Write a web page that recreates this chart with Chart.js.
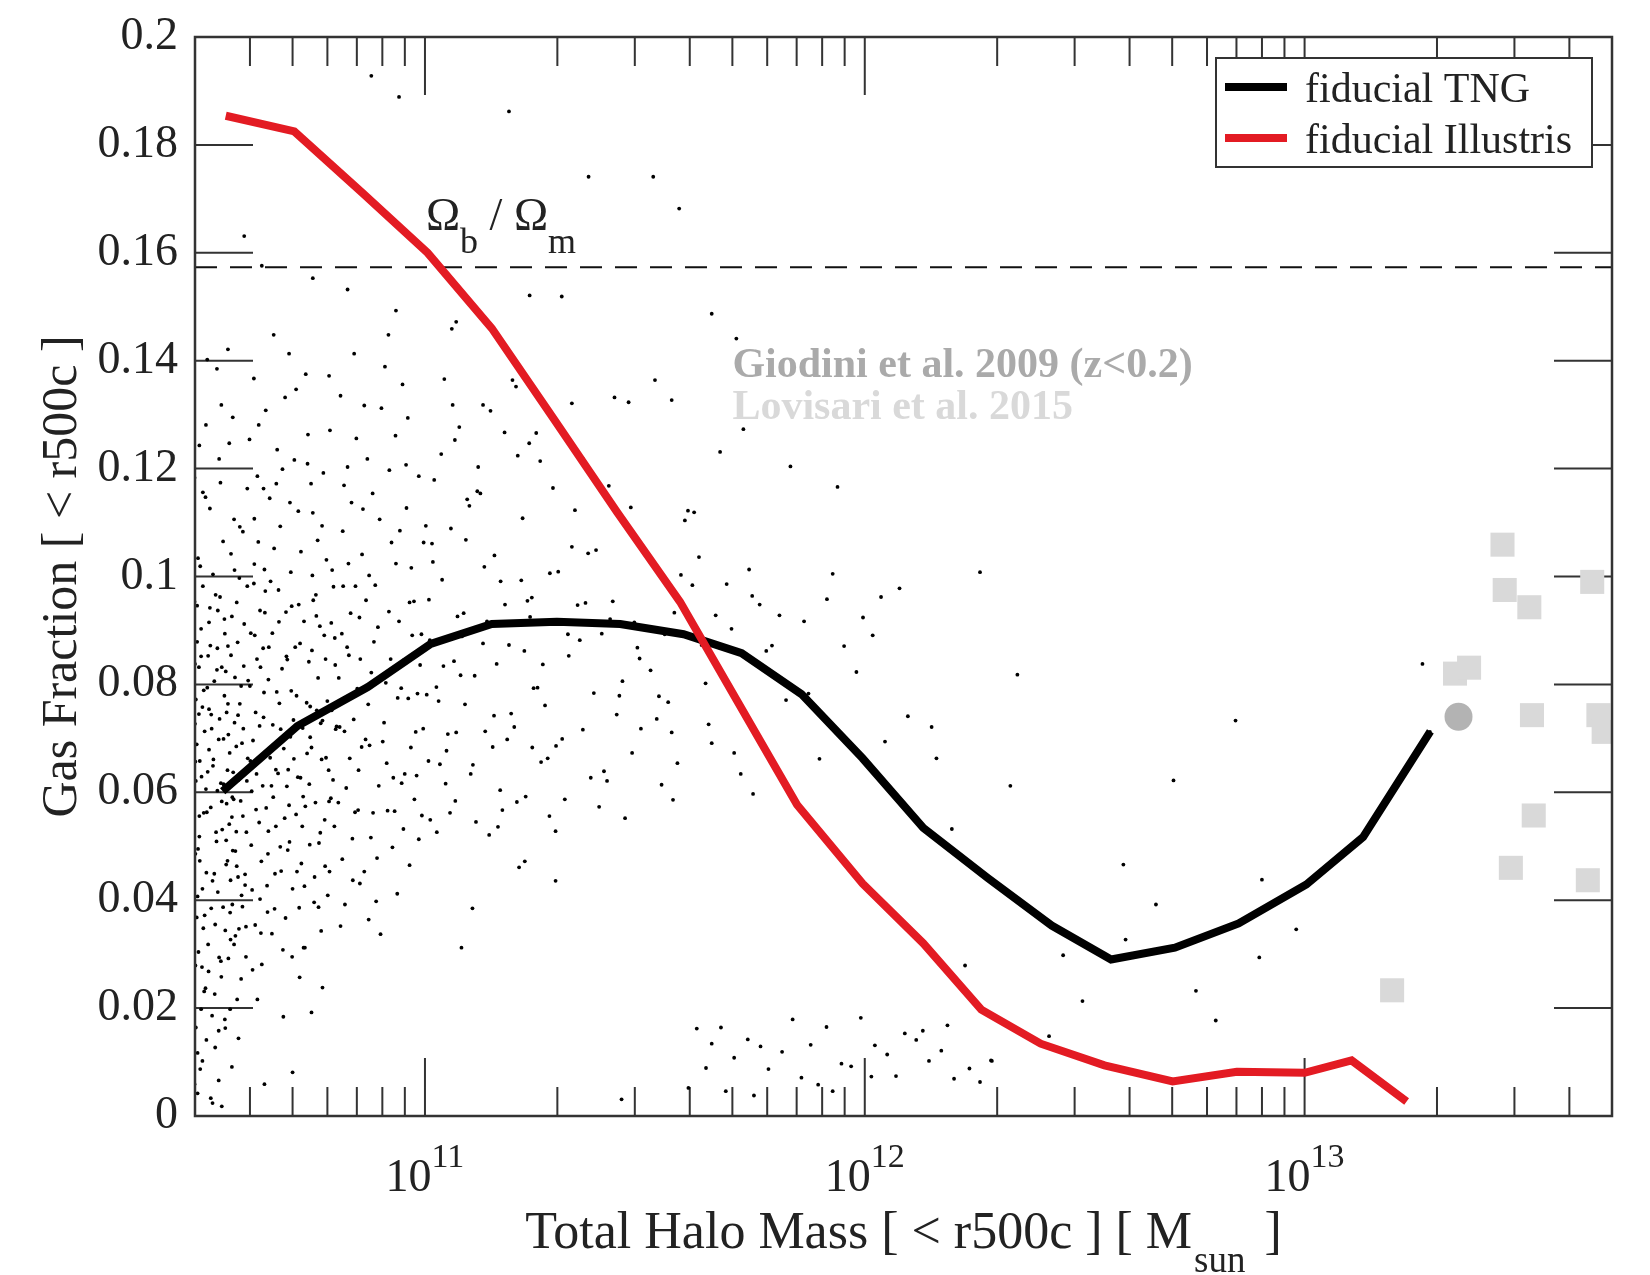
<!DOCTYPE html>
<html>
<head>
<meta charset="utf-8">
<script src="https://cdn.jsdelivr.net/npm/chart.js@4.4.1/dist/chart.umd.min.js"></script>
<style>
  html, body { margin: 0; padding: 0; background: #fff; }
  canvas { display: block; }
</style>
</head>
<body>
<canvas id="gasChart" width="1650" height="1275"></canvas>
<script>
// Median relations (log10 halo mass, gas fraction)
const tngLogM = [10.54, 10.71, 10.87, 11.013, 11.152, 11.30, 11.444, 11.588, 11.72, 11.856, 11.995, 12.133, 12.28, 12.425, 12.56, 12.705, 12.85, 13.004, 13.133, 13.286];
const tngFgas = [0.0602, 0.0723, 0.0795, 0.0875, 0.0912, 0.0916, 0.0912, 0.0893, 0.0858, 0.0782, 0.0663, 0.0534, 0.0441, 0.0353, 0.0290, 0.0312, 0.0357, 0.0429, 0.0517, 0.0713];
const illLogM = [10.547, 10.703, 10.858, 11.006, 11.152, 11.293, 11.437, 11.58, 11.708, 11.846, 11.995, 12.133, 12.265, 12.40, 12.545, 12.70, 12.846, 13.0, 13.107, 13.232];
const illFgas = [0.1854, 0.1825, 0.1711, 0.1600, 0.1460, 0.1292, 0.1119, 0.0953, 0.0772, 0.0577, 0.0431, 0.0320, 0.0197, 0.0134, 0.0094, 0.0064, 0.0082, 0.0080, 0.0103, 0.0027];

// Cosmic baryon fraction
const baryonFraction = 0.1573;

// Observations
const giodiniLogM = [13.35];
const giodiniFgas = [0.074];
const lovisariLogM = [13.45, 13.455, 13.511, 13.654, 13.342, 13.374, 13.517, 13.668, 13.68, 13.521, 13.469, 13.644, 13.199];
const lovisariFgas = [0.1059, 0.0975, 0.0943, 0.0990, 0.0820, 0.0831, 0.0743, 0.0743, 0.0712, 0.0557, 0.0460, 0.0437, 0.0233];

// Individual TNG halos [log10 M, fgas], M < 10^10.6
const halosA = [
  [10.474,0.0213],[10.552,0.0871],[10.497,0.0562],[10.583,0.0409],[10.511,0.1126],[10.486,0.0745],[10.566,0.0318],[10.529,0.0937],[10.478,0.0486],[10.597,0.0663],
  [10.503,0.0141],[10.544,0.0779],[10.471,0.0901],[10.571,0.0527],[10.523,0.0355],[10.559,0.1042],[10.492,0.0629],[10.537,0.0258],[10.588,0.0834],[10.483,0.0407],
  [10.515,0.0718],[10.548,0.0466],[10.476,0.1183],[10.593,0.0295],[10.507,0.0853],[10.562,0.0591],[10.489,0.0087],[10.534,0.0962],[10.575,0.0743],[10.499,0.0372],
  [10.542,0.0615],[10.481,0.0689],[10.557,0.0198],[10.518,0.1004],[10.586,0.0556],[10.473,0.0431],[10.527,0.0827],[10.569,0.0334],[10.495,0.0982],[10.553,0.0707],
  [10.508,0.0268],[10.579,0.1092],[10.487,0.0518],[10.538,0.0583],[10.598,0.0807],[10.479,0.0772],[10.521,0.0449],[10.561,0.0926],[10.502,0.0606],[10.546,0.0163],
  [10.472,0.0596],[10.584,0.0691],[10.514,0.0385],[10.555,0.0541],[10.491,0.0852],[10.532,0.1218],[10.572,0.0463],[10.485,0.0304],[10.549,0.0748],[10.509,0.0915],
  [10.591,0.0428],[10.477,0.0838],[10.526,0.0509],[10.564,0.0637],[10.498,0.0231],[10.541,0.1065],[10.581,0.0584],[10.482,0.0946],[10.519,0.0661],[10.557,0.0377],
  [10.505,0.0794],[10.536,0.0287],[10.596,0.0982],[10.475,0.0325],[10.567,0.0729],[10.513,0.0572],[10.488,0.0473],[10.545,0.0894],[10.577,0.0347],[10.501,0.1147],
  [10.531,0.0698],[10.563,0.0492],[10.479,0.0621],[10.589,0.0912],[10.516,0.0186],[10.551,0.0641],[10.494,0.0758],[10.529,0.0415],[10.574,0.0878],[10.484,0.1034],
  [10.539,0.0531],[10.509,0.0679],[10.582,0.0254],[10.471,0.0774],[10.558,0.0437],[10.524,0.0966],[10.496,0.0348],[10.568,0.0813],[10.543,0.0614],[10.487,0.0556],
  [10.594,0.0526],[10.512,0.0872],[10.553,0.0292],[10.478,0.0657],[10.535,0.1174],[10.571,0.0685],[10.503,0.0451],[10.547,0.0824],[10.585,0.0388],[10.491,0.0903],
  [10.522,0.0226],[10.561,0.0554],[10.474,0.0519],[10.533,0.0736],[10.578,0.0997],[10.506,0.0638],[10.551,0.0473],[10.483,0.0117],[10.541,0.0387],[10.566,0.1106],
  [10.497,0.0789],[10.528,0.0603],[10.587,0.0718],[10.476,0.0953],[10.517,0.0436],[10.559,0.0854],[10.493,0.0276],[10.549,0.0579],[10.573,0.0216],[10.502,0.1281],
  [10.538,0.0832],[10.481,0.0368],[10.595,0.0621],[10.514,0.0744],[10.556,0.0673],[10.489,0.1019],[10.531,0.0158],[10.569,0.0491],[10.473,0.0589],[10.544,0.0921],
  [10.507,0.0318],[10.582,0.0797],[10.525,0.0526],[10.486,0.0832],[10.562,0.0392],[10.499,0.0713],[10.537,0.1318],[10.576,0.0623],[10.478,0.0279],[10.552,0.0764],
  [10.511,0.0942],[10.591,0.0448],[10.484,0.0495],[10.528,0.0867],[10.565,0.0587],[10.495,0.1156],[10.546,0.0344],[10.572,0.0952],[10.518,0.0649],[10.477,0.0727],
  [10.555,0.1247],[10.504,0.0563],[10.586,0.1083],[10.532,0.0294],[10.491,0.0198],[10.542,0.0699],[10.575,0.0443],[10.482,0.0879],[10.521,0.0806],[10.558,0.0327],
  [10.472,0.1095],[10.548,0.0511],[10.509,0.0754],[10.593,0.0351],[10.536,0.0617],[10.567,0.1012],[10.494,0.0421],[10.527,0.1385],[10.579,0.0764],[10.488,0.0658],
  [10.513,0.0033],[10.476,0.0059],[10.538,0.0018],[10.483,0.0042],[10.561,0.0091],[10.501,0.0237],[10.479,0.0164],[10.523,0.0127],[10.552,0.1421],[10.589,0.1631],
  [10.474,0.1337],[10.505,0.1402],[10.596,0.1163],[10.563,0.1295],[10.487,0.1243],[10.517,0.0024],[10.531,0.0066],[10.576,0.0144],[10.494,0.0102],[10.545,0.0179]
];

// 10^10.6 - 10^10.8
const halosB = [
  [10.603,0.0658],[10.684,0.0934],[10.641,0.0427],[10.757,0.0812],[10.612,0.1107],[10.728,0.0574],[10.669,0.0765],[10.792,0.0981],[10.627,0.0339],[10.703,0.1216],
  [10.655,0.0591],[10.773,0.0463],[10.618,0.0847],[10.739,0.0702],[10.692,0.0508],[10.635,0.1013],[10.781,0.0641],[10.662,0.1172],[10.714,0.0386],[10.607,0.0419],
  [10.746,0.0956],[10.679,0.0681],[10.624,0.0723],[10.766,0.1094],[10.698,0.0295],[10.645,0.0869],[10.721,0.0537],[10.788,0.0752],[10.611,0.0987],[10.673,0.0454],
  [10.734,0.1263],[10.651,0.0612],[10.795,0.0886],[10.629,0.0281],[10.708,0.0779],[10.762,0.0525],[10.638,0.1308],[10.687,0.0846],[10.742,0.0683],[10.616,0.0568],
  [10.776,0.1031],[10.658,0.0384],[10.725,0.0917],[10.602,0.0797],[10.693,0.1137],[10.749,0.0443],[10.633,0.0739],[10.786,0.0589],[10.667,0.0975],[10.711,0.0628],
  [10.621,0.1064],[10.754,0.0752],[10.681,0.0552],[10.643,0.0486],[10.769,0.1192],[10.705,0.0869],[10.614,0.0354],[10.737,0.0615],[10.664,0.1235],[10.797,0.0717],
  [10.626,0.0832],[10.699,0.0421],[10.761,0.0908],[10.648,0.0664],[10.718,0.1046],[10.605,0.0502],[10.783,0.0453],[10.675,0.0829],[10.731,0.0766],[10.637,0.0973],
  [10.758,0.0387],[10.689,0.0642],[10.619,0.1186],[10.745,0.1118],[10.661,0.0537],[10.713,0.0948],[10.791,0.0623],[10.631,0.0612],[10.701,0.0734],[10.774,0.0847],
  [10.653,0.0895],[10.727,0.0312],[10.609,0.0696],[10.682,0.1332],[10.751,0.0581],[10.642,0.0378],[10.767,0.0733],[10.695,0.1008],[10.623,0.0544],[10.736,0.0842],
  [10.672,0.0717],[10.784,0.1271],[10.613,0.0891],[10.719,0.0468],[10.657,0.1052],[10.753,0.0927],[10.634,0.0785],[10.707,0.0559],[10.779,0.0409],[10.666,0.0635],
  [10.744,0.1002],[10.601,0.1254],[10.688,0.0493],[10.732,0.0672],[10.647,0.1145],[10.794,0.0537],[10.628,0.0472],[10.716,0.0876],[10.765,0.0661],[10.677,0.0308],
  [10.617,0.0634],[10.741,0.1172],[10.696,0.0788],[10.654,0.0725],[10.787,0.0914],[10.636,0.0933],[10.723,0.0592],[10.671,0.1093],[10.759,0.0506],[10.608,0.0271],
  [10.702,0.0662],[10.778,0.0769],[10.644,0.0528],[10.729,0.1375],[10.686,0.0611],[10.622,0.1281],[10.771,0.0891],[10.659,0.0449],[10.712,0.1121],[10.748,0.0396],
  [10.632,0.0867],[10.691,0.0576],[10.799,0.0722],[10.668,0.0916],[10.738,0.0503],[10.615,0.0748],[10.756,0.1067],[10.683,0.0367],[10.649,0.0991],[10.722,0.0719],
  [10.782,0.0583],[10.604,0.0895],[10.697,0.0945],[10.763,0.0728],[10.639,0.0571],[10.709,0.0453],[10.676,0.1199],[10.743,0.0863],[10.625,0.0402],[10.789,0.1012],
  [10.663,0.0786],[10.717,0.0627],[10.652,0.0338],[10.733,0.1209],[10.694,0.0703],[10.612,0.1023],[10.772,0.0549],[10.644,0.0809],[10.752,0.0966],[10.685,0.0852],
  [10.625,0.0937],[10.707,0.1347],[10.775,0.0664],[10.661,0.0642],[10.726,0.0426],[10.606,0.0602],[10.796,0.0836],[10.671,0.0499],[10.739,0.0759],[10.633,0.1163],
  [10.715,0.0257],[10.678,0.0184],[10.619,0.0216],[10.764,0.0343],[10.699,0.0081],[10.742,0.0192],[10.656,0.1448],[10.745,0.1553],[10.629,0.1576],[10.782,0.1372],
  [10.691,0.1413],[10.724,0.0312],[10.611,0.1367],[10.767,0.0238],[10.635,0.0059]
];

// 10^10.8 - 10^11.0
const halosC = [
  [10.806,0.0721],[10.887,0.0984],[10.841,0.0563],[10.958,0.1127],[10.823,0.0869],[10.913,0.0654],[10.869,0.1218],[10.992,0.0893],[10.812,0.0476],[10.938,0.0775],
  [10.857,0.1041],[10.976,0.0587],[10.831,0.0932],[10.901,0.1312],[10.849,0.0641],[10.965,0.0952],[10.816,0.1169],[10.926,0.0498],[10.878,0.0822],[10.997,0.1063],
  [10.838,0.0735],[10.947,0.0617],[10.803,0.0581],[10.893,0.0906],[10.862,0.0453],[10.983,0.0783],[10.826,0.1024],[10.919,0.1197],[10.874,0.0687],[10.952,0.0845],
  [10.811,0.0894],[10.934,0.1024],[10.853,0.0847],[10.968,0.0683],[10.844,0.1256],[10.907,0.0729],[10.818,0.0392],[10.986,0.1186],[10.882,0.0562],[10.941,0.0917],
  [10.829,0.0663],[10.961,0.1294],[10.866,0.0956],[10.915,0.0566],[10.808,0.1335],[10.979,0.0712],[10.897,0.1106],[10.835,0.0514],[10.954,0.0634],[10.871,0.0763],
  [10.922,0.0847],[10.814,0.0982],[10.993,0.0557],[10.859,0.1125],[10.937,0.0412],[10.884,0.0879],[10.821,0.0608],[10.969,0.1016],[10.846,0.0792],[10.909,0.1389],
  [10.877,0.0516],[10.946,0.0793],[10.833,0.1137],[10.989,0.0836],[10.865,0.0698],[10.928,0.0627],[10.804,0.0812],[10.957,0.1207],[10.891,0.0478],[10.851,0.0924],
  [10.975,0.0954],[10.817,0.0713],[10.943,0.1085],[10.873,0.1002],[10.904,0.0694],[10.836,0.0437],[10.981,0.0631],[10.862,0.1317],[10.918,0.0935],[10.827,0.0854],
  [10.962,0.0774],[10.895,0.0612],[10.848,0.0567],[10.933,0.1261],[10.813,0.1084],[10.996,0.0718],[10.881,0.1154],[10.951,0.0532],[10.842,0.0982],[10.911,0.0803],
  [10.824,0.1203],[10.971,0.0891],[10.856,0.0684],[10.924,0.1063],[10.889,0.0398],[10.839,0.1413],[10.949,0.1356],[10.917,0.1448],[10.878,0.1928],[10.941,0.1889],
  [10.824,0.1532],[10.934,0.1493],[10.965,0.0465],[10.808,0.0352],[10.899,0.0337],[10.986,0.0513],[10.852,0.0431],[10.931,0.0565],[10.872,0.0364]
];

// 10^11.0 - 10^11.5
const halosD = [
  [11.004,0.0781],[11.093,0.1068],[11.047,0.0616],[11.182,0.0948],[11.021,0.1179],[11.137,0.0713],[11.068,0.1253],[11.226,0.0862],[11.012,0.0549],[11.158,0.1039],
  [11.081,0.0817],[11.243,0.0961],[11.034,0.0652],[11.119,0.1158],[11.196,0.0746],[11.057,0.0562],[11.211,0.1224],[11.009,0.0957],[11.146,0.0521],[11.074,0.0926],
  [11.237,0.1247],[11.026,0.0795],[11.171,0.0604],[11.101,0.1131],[11.049,0.0677],[11.219,0.0993],[11.132,0.0876],[11.016,0.1061],[11.187,0.0698],[11.063,0.1318],
  [11.247,0.0793],[11.109,0.0651],[11.039,0.0994],[11.166,0.0536],[11.084,0.0889],[11.203,0.0721],[11.002,0.1094],[11.149,0.1307],[11.071,0.0711],[11.229,0.0592],
  [11.121,0.1203],[11.042,0.0834],[11.176,0.0567],[11.096,0.1143],[11.018,0.1027],[11.233,0.0955],[11.154,0.0684],[11.059,0.1089],[11.191,0.0873],[11.113,0.0816],
  [11.031,0.0769],[11.214,0.0461],[11.141,0.0917],[11.078,0.1277],[11.008,0.0658],[11.199,0.1364],[11.126,0.1154],[11.052,0.0708],[11.239,0.0925],[11.088,0.0932],
  [11.163,0.0838],[11.027,0.0526],[11.207,0.1352],[11.135,0.1018],[11.066,0.0843],[11.244,0.0683],[11.104,0.0634],[11.037,0.1227],[11.172,0.0991],[11.091,0.0763],
  [11.222,0.1108],[11.011,0.0882],[11.157,0.0742],[11.116,0.0545],[11.061,0.1459],[11.071,0.1472],[11.191,0.1862],[11.108,0.0385],[11.083,0.0312],[11.227,0.0472],
  [11.238,0.1521],[11.132,0.1318],[11.044,0.1366],[11.181,0.1267],[11.069,0.0584],[11.209,0.0582],
  [11.256,0.0794],[11.341,0.1123],[11.298,0.0686],[11.427,0.0954],[11.273,0.0761],[11.389,0.1049],[11.318,0.0587],[11.476,0.0915],[11.262,0.1214],[11.407,0.0639],
  [11.352,0.0882],[11.491,0.0718],[11.284,0.1006],[11.436,0.0744],[11.327,0.0853],[11.462,0.1086],[11.377,0.0627],[11.253,0.1266],[11.414,0.0621],[11.303,0.1009],
  [11.449,0.0806],[11.365,0.0951],[11.268,0.0837],[11.483,0.0868],[11.334,0.1055],[11.396,0.0573],[11.291,0.1164],[11.442,0.0779],[11.359,0.0716],[11.279,0.0663],
  [11.421,0.0921],[11.312,0.0699],[11.468,0.1128],[11.347,0.0947],[11.259,0.1329],[11.384,0.0784],[11.325,0.0893],[11.455,0.0552],[11.297,0.0528],[11.402,0.0894],
  [11.371,0.1043],[11.488,0.0848],[11.264,0.0656],[11.431,0.1332],[11.334,0.1321],[11.311,0.1519],[11.372,0.1741],[11.463,0.1323],[11.297,0.0436],[11.447,0.0031],
  [11.283,0.0556],[11.418,0.1168],[11.359,0.1218],[11.471,0.0673]
];

// M > 10^11.5
const halosE = [
  [11.513,0.0826],[11.608,0.0984],[11.561,0.0711],[11.697,0.0903],[11.532,0.0778],[11.744,0.0964],[11.652,0.0691],[11.789,0.0872],[11.574,0.0654],[11.623,0.1036],
  [11.718,0.0634],[11.545,0.0893],[11.677,0.0817],[11.806,0.0928],[11.591,0.1104],[11.527,0.0736],[11.761,0.0948],[11.638,0.0802],[11.703,0.0673],[11.567,0.0933],
  [11.821,0.0771],[11.612,0.1119],[11.553,0.0767],[11.686,0.0986],[11.737,0.1013],[11.645,0.0726],[11.776,0.0862],[11.523,0.1364],[11.561,0.1327],[11.598,0.1122],
  [11.652,0.1487],[11.708,0.1441],[11.724,0.1273],[11.671,0.1231],[11.831,0.1204],[11.519,0.1741],[11.578,0.1682],[11.564,0.0586],[11.746,0.0597],[11.599,0.0052],
  [11.538,0.0614],[11.629,0.0873],[11.582,0.1003],[11.661,0.0928],
  [11.872,0.0783],[11.914,0.0958],[11.953,0.0871],[11.996,0.0924],[12.037,0.0962],[12.079,0.0978],[11.897,0.0662],[11.938,0.1166],[12.018,0.0891],[11.862,0.0917],
  [12.046,0.0694],[12.098,0.0741],[11.981,0.0823],[11.927,0.1005],
  [11.618,0.0162],[11.703,0.0108],[11.652,0.0134],[11.781,0.0087],[11.734,0.0142],[11.856,0.0071],[11.812,0.0119],[11.673,0.0164],[11.947,0.0097],[11.894,0.0058],
  [12.023,0.0131],[11.969,0.0092],[12.091,0.0153],[12.051,0.0114],[11.927,0.0046],[12.146,0.0102],[12.117,0.0141],[12.203,0.0069],[12.174,0.0121],[12.262,0.0063],
  [12.238,0.0088],[11.763,0.0129],[11.748,0.0038],[11.991,0.0182],[12.132,0.0158],[11.836,0.0179],[11.913,0.0165],[12.015,0.0073],[12.289,0.0102],[11.684,0.0046],
  [11.877,0.0132],[12.071,0.0074],[11.639,0.0089],[12.188,0.0168],
  [12.152,0.0721],[12.163,0.0663],[12.198,0.0532],[12.262,0.1008],[12.347,0.0818],[12.331,0.0612],[12.451,0.0298],[12.588,0.0466],[12.593,0.0327],[12.702,0.0622],
  [12.843,0.0733],[12.897,0.0294],[12.903,0.0438],[12.981,0.0346],[12.753,0.0232],[12.798,0.0177],[12.419,0.0148],[12.228,0.0279],[12.287,0.0103],[13.268,0.0838],
  [13.285,0.0712],[12.495,0.0213],[12.662,0.0392]
];

// Axis labels
const xTickExponents = [11, 12, 13];
const xMin = 3e10, xMax = 5e13;
const yMin = 0, yMax = 0.2, yStep = 0.02;

const SERIF = "'Liberation Serif', 'Times New Roman', serif";
const INK = '#222';
Chart.defaults.font.family = SERIF;

const toXY = (lm, f) => lm.map((m, i) => ({ x: Math.pow(10, m), y: f[i] }));
const pairsToXY = (arr) => arr.map((p) => ({ x: Math.pow(10, p[0]), y: p[1] }));

// Inner ticks + frame
const frameTicks = {
  id: 'frameTicks',
  beforeDatasetsDraw(chart) {
    const { ctx, chartArea: a, scales: { x, y } } = chart;
    ctx.save();
    ctx.strokeStyle = '#333';
    ctx.lineWidth = 2;
    ctx.beginPath();
    y.ticks.forEach((t) => {
      const py = y.getPixelForValue(t.value);
      ctx.moveTo(a.left, py); ctx.lineTo(a.left + 58, py);
      ctx.moveTo(a.right, py); ctx.lineTo(a.right - 58, py);
    });
    for (let e = 10; e <= 13; e++) {
      for (let k = 1; k <= 9; k++) {
        const v = k * Math.pow(10, e);
        if (v <= x.min || v >= x.max) continue;
        const px = x.getPixelForValue(v);
        const len = k === 1 ? 58 : 29;
        ctx.moveTo(px, a.bottom); ctx.lineTo(px, a.bottom - len);
        ctx.moveTo(px, a.top); ctx.lineTo(px, a.top + len);
      }
    }
    ctx.stroke();
    ctx.restore();
  },
  afterDatasetsDraw(chart) {
    const { ctx, chartArea: a } = chart;
    ctx.save();
    ctx.strokeStyle = '#333';
    ctx.lineWidth = 2.5;
    ctx.strokeRect(a.left, a.top, a.right - a.left, a.bottom - a.top);
    ctx.restore();
  }
};

// Labels, annotations, legend
const annotations = {
  id: 'annotations',
  afterDraw(chart) {
    const { ctx, chartArea: a, scales: { x, y } } = chart;
    ctx.save();
    ctx.fillStyle = INK;
    ctx.textBaseline = 'alphabetic';
    ctx.textAlign = 'left';

    // x tick labels 10^n
    xTickExponents.forEach((e) => {
      const px = x.getPixelForValue(Math.pow(10, e));
      ctx.font = `46px ${SERIF}`;
      const w1 = ctx.measureText('10').width;
      ctx.font = `34px ${SERIF}`;
      const w2 = ctx.measureText(String(e)).width;
      const x0 = px - (w1 + w2) / 2;
      ctx.font = `46px ${SERIF}`;
      ctx.fillText('10', x0, a.bottom + 75);
      ctx.font = `34px ${SERIF}`;
      ctx.fillText(String(e), x0 + w1, a.bottom + 51);
    });

    // x title with subscript
    const t1 = 'Total Halo Mass [ < r500c ] [ M';
    const t2 = 'sun';
    const t3 = ' ]';
    ctx.font = `52px ${SERIF}`;
    const w1 = ctx.measureText(t1).width;
    const w3 = ctx.measureText(t3).width + 8;
    ctx.font = `37px ${SERIF}`;
    const w2 = ctx.measureText(t2).width;
    const cx = (a.left + a.right) / 2;
    const tx = cx - (w1 + w2 + w3) / 2;
    ctx.font = `52px ${SERIF}`;
    ctx.fillText(t1, tx, a.bottom + 132);
    ctx.font = `37px ${SERIF}`;
    ctx.fillText(t2, tx + w1 + 2, a.bottom + 156);
    ctx.font = `52px ${SERIF}`;
    ctx.fillText(t3, tx + w1 + w2 + 8, a.bottom + 132);

    // Omega_b / Omega_m label
    let ox = x.getPixelForValue(1.005e11);
    const oy = y.getPixelForValue(baryonFraction) - 37;
    const parts = [['\u03A9', 46, 0], ['b', 36, 23], [' / ', 46, 0], ['\u03A9', 46, 0], ['m', 36, 23]];
    parts.forEach(([s, size, dy]) => {
      ctx.font = `${size}px ${SERIF}`;
      ctx.fillText(s, ox, oy + dy);
      ox += ctx.measureText(s).width;
    });

    // observation labels
    const lx = x.getPixelForValue(Math.pow(10, 11.699));
    ctx.font = `bold 42px ${SERIF}`;
    ctx.fillStyle = '#aaaaaa';
    ctx.fillText('Giodini et al. 2009 (z<0.2)', lx, y.getPixelForValue(0.1370));
    ctx.fillStyle = '#d9d9d9';
    ctx.fillText('Lovisari et al. 2015', lx, y.getPixelForValue(0.1292));

    // legend box
    const bx = a.right - 396, by = a.top + 21, bw = 376, bh = 109;
    ctx.fillStyle = '#fff';
    ctx.fillRect(bx, by, bw, bh);
    ctx.strokeStyle = '#333';
    ctx.lineWidth = 2;
    ctx.strokeRect(bx, by, bw, bh);
    const items = [[chart.data.datasets[1], 29], [chart.data.datasets[0], 80]];
    items.forEach(([ds, dy]) => {
      ctx.strokeStyle = ds.borderColor;
      ctx.lineWidth = 8;
      ctx.beginPath();
      ctx.moveTo(bx + 9, by + dy);
      ctx.lineTo(bx + 71, by + dy);
      ctx.stroke();
      ctx.fillStyle = INK;
      ctx.font = `42px ${SERIF}`;
      ctx.fillText(ds.label, bx + 89, by + dy + 15);
    });
    ctx.restore();
  }
};

const dotStyle = { backgroundColor: '#000', borderWidth: 0, pointRadius: 1.9 };

new Chart(document.getElementById('gasChart'), {
  type: 'scatter',
  data: {
    datasets: [
      {
        label: 'fiducial Illustris',
        type: 'line',
        data: toXY(illLogM, illFgas),
        borderColor: '#e31b23',
        borderWidth: 8,
        pointRadius: 0,
        tension: 0,
      },
      {
        label: 'fiducial TNG',
        type: 'line',
        data: toXY(tngLogM, tngFgas),
        borderColor: '#000',
        borderWidth: 8,
        pointRadius: 0,
        tension: 0,
      },
      {
        label: 'baryon fraction',
        type: 'line',
        data: [{ x: xMin, y: baryonFraction }, { x: xMax, y: baryonFraction }],
        borderColor: '#111',
        borderWidth: 2,
        borderDash: [22, 13],
        pointRadius: 0,
      },
      { label: 'halos A', data: pairsToXY(halosA), ...dotStyle },
      { label: 'halos B', data: pairsToXY(halosB), ...dotStyle },
      { label: 'halos C', data: pairsToXY(halosC), ...dotStyle },
      { label: 'halos D', data: pairsToXY(halosD), ...dotStyle },
      { label: 'halos E', data: pairsToXY(halosE), ...dotStyle },
      {
        label: 'Giodini et al. 2009',
        data: toXY(giodiniLogM, giodiniFgas),
        backgroundColor: '#b3b3b3',
        borderWidth: 0,
        pointRadius: 14,
      },
      {
        label: 'Lovisari et al. 2015',
        data: toXY(lovisariLogM, lovisariFgas),
        backgroundColor: '#d9d9d9',
        borderWidth: 0,
        pointStyle: 'rect',
        pointRadius: 17,
      },
    ],
  },
  options: {
    responsive: false,
    animation: false,
    devicePixelRatio: 1,
    layout: { padding: { top: 37, right: 38, left: 0, bottom: 0 } },
    plugins: { legend: { display: false }, tooltip: { enabled: false } },
    scales: {
      x: {
        type: 'logarithmic',
        min: xMin,
        max: xMax,
        grid: { display: false, drawTicks: false },
        border: { display: false },
        ticks: { display: false },
        afterFit: (s) => { s.height = 159; s.paddingLeft = 0; s.paddingRight = 0; },
      },
      y: {
        min: yMin,
        max: yMax,
        grid: { display: false, drawTicks: false },
        border: { display: false },
        ticks: {
          stepSize: yStep,
          autoSkip: false,
          color: INK,
          padding: 17,
          font: { size: 46 },
          callback: (v) => String(+v.toFixed(2)),
        },
        title: {
          display: true,
          text: 'Gas Fraction [ < r500c ]',
          color: INK,
          font: { size: 50 },
          padding: { top: 33, bottom: 0 },
        },
        afterFit: (s) => { s.width = 195; s.paddingTop = 0; s.paddingBottom = 0; },
      },
    },
  },
  plugins: [frameTicks, annotations],
});
</script>
</body>
</html>
